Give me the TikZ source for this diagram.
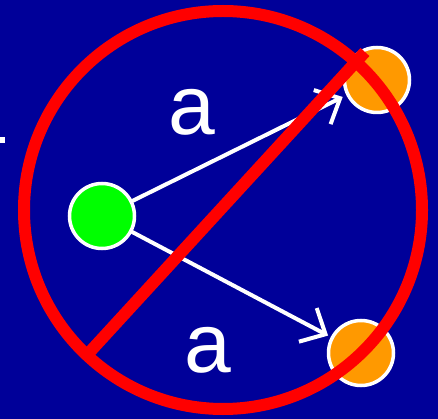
\documentclass[tikz,border=0pt]{standalone}
\usepackage{fontspec}
\setmainfont{Liberation Sans}
\usetikzlibrary{arrows.meta}
\definecolor{bgblue}{RGB}{0,0,153}
\definecolor{ballorange}{RGB}{255,153,0}
\definecolor{ballgreen}{RGB}{0,255,0}
\begin{document}
\begin{tikzpicture}[x=1pt,y=-1pt,
  ball/.style={circle,draw=white,line width=3.5pt,minimum size=65pt,inner sep=0pt},
  ray/.style={white,line width=4pt,line cap=round,-{Straight Barb[length=20pt,width=38pt,line width=4pt]}},
  lab/.style={text=white,inner sep=0pt,font=\fontsize{84}{90}\selectfont},
  ban/.style={red,line width=12pt}]
\path[use as bounding box,fill=bgblue] (0,0) rectangle (438,419);
\fill[white] (0,137) rectangle (5,143);
\node[ball,fill=ballgreen] (src) at (102,216) {};
\node[ball,fill=ballorange] (up) at (377,80) {};
\node[ball,fill=ballorange] (down) at (361,353) {};
\draw[ray,shorten >=4pt] (src) -- (up);
\draw[ray,shorten >=3pt] (src) -- (down);
\node[lab] (ua) at (192,112) {a};
\node[lab] (da) at (208,350) {a};
\draw[ban] (223,210) circle (199);
\draw[ban] (87,355) -- (365,52);
\end{tikzpicture}
\end{document}
